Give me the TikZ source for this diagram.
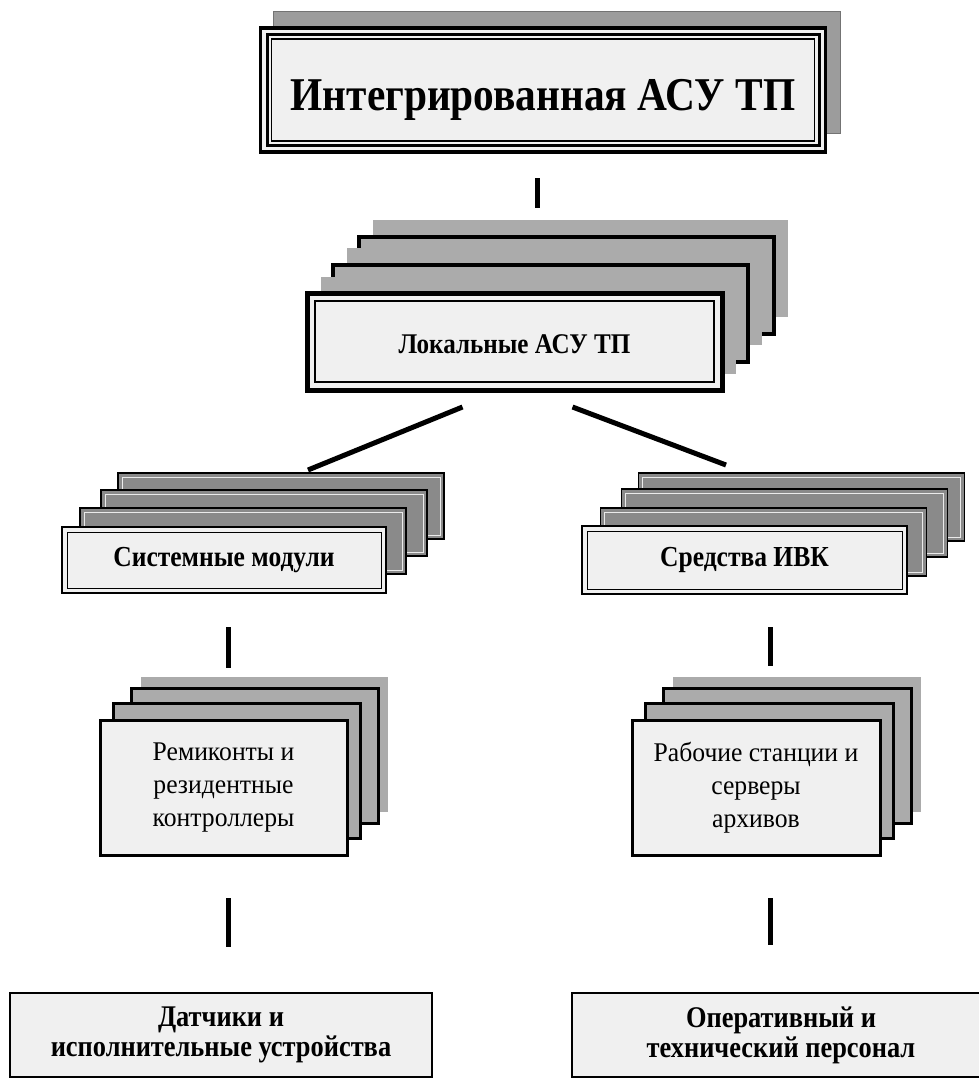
\documentclass[tikz,border=0pt]{standalone}
\usepackage{fontspec}
\setmainfont{Liberation Serif}
\newfontfamily\narrowserif[FakeStretch=0.88]{Liberation Serif}
\newfontfamily\plainserif[FakeStretch=0.95]{Liberation Serif}
\usepackage{tikz}
\usetikzlibrary{backgrounds}

\begin{document}
\begin{tikzpicture}[x=1pt,y=-1pt,
base/.style={inner sep=0pt,outer sep=0pt,align=center},
inset/.style 2 args={path picture={\draw[line width=#2] ([shift={(#1,#1)}]path picture bounding box.south west) rectangle ([shift={(-#1,-#1)}]path picture bounding box.north east);}},
bigbox/.style={base,draw,line width=3.3pt,fill=black!6,font=\narrowserif\fontsize{47}{50}\selectfont\bfseries,
  text height=40pt,text depth=0pt,
  path picture={
  \draw[line width=3pt] ([shift={(6.5pt,6.5pt)}]path picture bounding box.south west) rectangle ([shift={(-6.5pt,-6.5pt)}]path picture bounding box.north east);
  \draw[line width=1.3pt] ([shift={(11pt,11pt)}]path picture bounding box.south west) rectangle ([shift={(-11pt,-11pt)}]path picture bounding box.north east);}},
locbox/.style={base,draw,line width=5pt,fill=black!6,inset={8pt}{1.3pt},text height=23pt,text depth=0pt,
  font=\narrowserif\fontsize{28.5}{32}\selectfont\bfseries},
midbox/.style={base,draw,line width=2.5pt,fill=black!6,inset={5pt}{1pt},font=\narrowserif\fontsize{29}{32}\selectfont\bfseries},
cardbox/.style={base,draw,line width=3pt,fill=black!6,font=\plainserif\fontsize{27}{33}\selectfont},
endbox/.style={base,draw,line width=2pt,fill=black!6,font=\narrowserif\fontsize{30}{30}\selectfont\bfseries},
shade/.style={base,fill=black!33},
topshade/.style={base,fill=black!39,draw=black!55,line width=0.8pt},
frame/.style={base,fill=black!33,draw,line width=#1},
dark/.style={base,fill=black!46,draw,line width=1.3pt,path picture={\draw[black!8,line width=0.8pt] ([shift={(4pt,4pt)}]path picture bounding box.south west) rectangle ([shift={(-4pt,-4pt)}]path picture bounding box.north east);}},
link/.style={line width=5pt}
]
\useasboundingbox (0,0) rectangle (979,1079);
% front cards
\node[bigbox,minimum width=565pt,minimum height=124pt] (integ) at (543,90) {Интегрированная АСУ ТП};
\node[locbox,minimum width=415pt,minimum height=97pt] (loc) at (514.5,341.5) {Локальные АСУ ТП};
\node[midbox,minimum width=324pt,minimum height=66pt] (sys) at (224,560) {Системные модули};
\node[midbox,minimum width=325pt,minimum height=68pt] (ivk) at (744.5,560) {Средства ИВК};
\node[cardbox,minimum width=247pt,minimum height=135pt] (rem) at (223.5,787.5) {Ремиконты и\\резидентные\\контроллеры};
\node[cardbox,minimum width=248pt,minimum height=135pt] (ras) at (756,787.5) {Рабочие станции и\\серверы\\архивов};
\node[endbox,minimum width=422pt,minimum height=84pt] (dat) at (221,1035) {Датчики и\\исполнительные устройства};
\node[endbox,minimum width=418pt,minimum height=84pt] (oper) at (781,1035) {Оперативный и\\технический персонал};
% cards behind
\begin{scope}[on background layer]
\fill[white] (0,0) rectangle (979,1079);
\node[topshade,minimum width=567pt,minimum height=122pt] (integ-a) at ([shift={(14pt,18pt)}]integ.center) {};
\node[shade,minimum width=415pt,minimum height=97pt] (loc-a) at ([shift={(66pt,73pt)}]loc.center) {};
\node[frame=4.5pt,minimum width=415pt,minimum height=97pt] (loc-b) at ([shift={(52pt,56pt)}]loc.center) {};
\node[shade,minimum width=415pt,minimum height=97pt] (loc-c) at ([shift={(40pt,45pt)}]loc.center) {};
\node[frame=4.5pt,minimum width=415pt,minimum height=97pt] (loc-d) at ([shift={(26pt,28pt)}]loc.center) {};
\node[shade,minimum width=415pt,minimum height=97pt] (loc-e) at ([shift={(14pt,16pt)}]loc.center) {};
\node[dark,minimum width=326pt,minimum height=66pt] (sys-a) at ([shift={(57pt,54pt)}]sys.center) {};
\node[dark,minimum width=326pt,minimum height=66pt] (sys-b) at ([shift={(40pt,37pt)}]sys.center) {};
\node[dark,minimum width=326pt,minimum height=66pt] (sys-c) at ([shift={(19pt,19pt)}]sys.center) {};
\node[dark,minimum width=326pt,minimum height=68pt] (ivk-a) at ([shift={(57pt,53pt)}]ivk.center) {};
\node[dark,minimum width=326pt,minimum height=68pt] (ivk-b) at ([shift={(40pt,37pt)}]ivk.center) {};
\node[dark,minimum width=326pt,minimum height=68pt] (ivk-c) at ([shift={(19pt,18pt)}]ivk.center) {};
\node[shade,minimum width=247pt,minimum height=135pt] (rem-a) at ([shift={(41pt,43pt)}]rem.center) {};
\node[frame=3pt,minimum width=247pt,minimum height=135pt] (rem-b) at ([shift={(31pt,32pt)}]rem.center) {};
\node[frame=3pt,minimum width=247pt,minimum height=135pt] (rem-c) at ([shift={(13pt,17pt)}]rem.center) {};
\node[shade,minimum width=248pt,minimum height=135pt] (ras-a) at ([shift={(41pt,43pt)}]ras.center) {};
\node[frame=3pt,minimum width=248pt,minimum height=135pt] (ras-b) at ([shift={(31pt,32pt)}]ras.center) {};
\node[frame=3pt,minimum width=248pt,minimum height=135pt] (ras-c) at ([shift={(13pt,17pt)}]ras.center) {};
\end{scope}
% links
\draw[link] ([xshift=-6pt,yshift=-26pt]integ.south) -- ([xshift=-43.5pt,yshift=12pt]loc-a.north);
\draw[link] ([xshift=-52pt,yshift=-17pt]loc.south) -- ([xshift=27pt,yshift=3pt]sys-a.north);
\draw[link] ([xshift=58pt,yshift=-17pt]loc.south) -- ([xshift=-75.5pt,yshift=8pt]ivk-a.north);
\draw[link] ([xshift=4pt,yshift=-34pt]sys.south) -- ([xshift=-36.5pt,yshift=9pt]rem-a.north);
\draw[link] ([xshift=25.5pt,yshift=-33pt]ivk.south) -- ([xshift=-27pt,yshift=11pt]ras-a.north);
\draw[link] ([xshift=4.5pt,yshift=-43pt]rem.south) -- ([xshift=7pt,yshift=46pt]dat.north);
\draw[link] ([xshift=14pt,yshift=-43pt]ras.south) -- ([xshift=-11pt,yshift=48pt]oper.north);
\end{tikzpicture}
\end{document}
